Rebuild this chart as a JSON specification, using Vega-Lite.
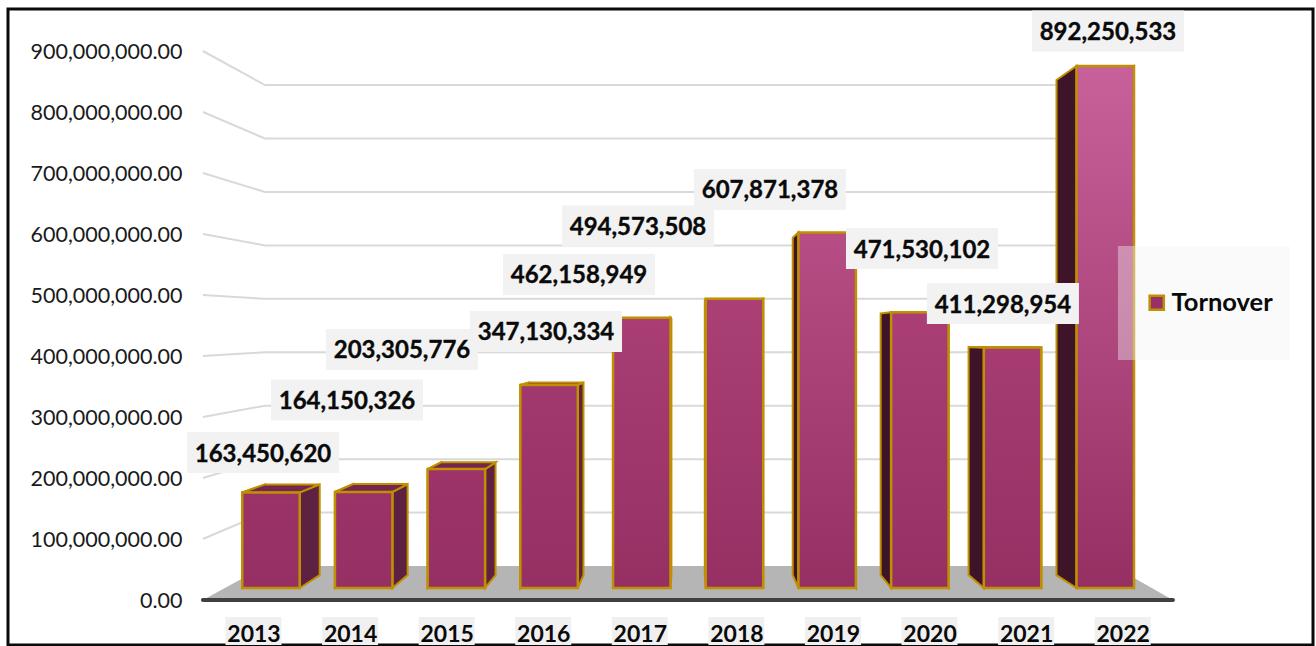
{
  "$schema": "https://vega.github.io/schema/vega-lite/v6.json",
  "width": 1305,
  "height": 636,
  "autosize": {"type": "none"},
  "padding": {"left": 8, "top": 9, "right": 3, "bottom": 1},
  "background": "white",
  "view": {"stroke": "#0a0a0a", "strokeWidth": 3, "fill": "white"},
  "config": {"text": {"font": "Lato"}},
  "datasets": {
    "turnover": [
      {"year": 2013, "value": 163450620},
      {"year": 2014, "value": 164150326},
      {"year": 2015, "value": 203305776},
      {"year": 2016, "value": 347130334},
      {"year": 2017, "value": 462158949},
      {"year": 2018, "value": 494573508},
      {"year": 2019, "value": 607871378},
      {"year": 2020, "value": 471530102},
      {"year": 2021, "value": 411298954},
      {"year": 2022, "value": 892250533}
    ],
    "ticks": [
      {"tick": 100000000}, {"tick": 200000000}, {"tick": 300000000},
      {"tick": 400000000}, {"tick": 500000000}, {"tick": 600000000},
      {"tick": 700000000}, {"tick": 800000000}, {"tick": 900000000}
    ],
    "floor": [{"corner": 0}, {"corner": 1}, {"corner": 2}, {"corner": 3}]
  },
  "layer": [
    {
      "description": "Floor, rear wall gridlines and the value axis",
      "encoding": {
        "x": {"field": "px", "type": "quantitative", "axis": null, "scale": {"domain": [2010.163, 2024.241], "nice": false, "zero": false}},
        "y": {
          "field": "py", "type": "quantitative",
          "scale": {"domain": [-73770000, 968850000], "nice": false, "zero": false},
          "axis": {
            "title": null, "orient": "left", "offset": -174, "domain": false, "ticks": false, "grid": false,
            "labelPadding": 0, "labelOffset": 1.5, "values": [0, 100000000, 200000000, 300000000, 400000000, 500000000, 600000000, 700000000, 800000000, 900000000],
            "format": ",.2f", "labelFont": "Lato", "labelFontSize": 21.5, "labelColor": "#1a1a1a", "labelOverlap": false, "labelBound": false, "labelFlush": false
          }
        }
      },
      "layer": [
        {
          "data": {"name": "floor"},
          "transform": [
            {"calculate": "[2012.266, 2012.935, 2022.083, 2022.73][datum.corner]", "as": "px"},
            {"calculate": "[0, 55700000, 55700000, 0][datum.corner]", "as": "py"},
            {"calculate": "0", "as": "py2"}
          ],
          "mark": {"type": "area", "fill": "#b5b5b5", "stroke": null},
          "encoding": {"y2": {"field": "py2"}}
        },
        {
          "data": {"name": "ticks"},
          "transform": [
            {"calculate": "[0, 1, 2]", "as": "bend"},
            {"flatten": ["bend"]},
            {"calculate": "[2012.266, 2012.935, 2022.083][datum.bend]", "as": "px"},
            {"calculate": "datum.bend == 0 ? datum.tick : 55700000 + 0.876 * datum.tick", "as": "py"}
          ],
          "mark": {"type": "line", "stroke": "#d9d9d9", "strokeWidth": 2},
          "encoding": {"detail": {"field": "tick"}}
        },
        {
          "data": {"values": [{"px": 2012.266, "px2": 2022.73, "py": 0}]},
          "mark": {"type": "rule", "stroke": "#404040", "strokeWidth": 4, "strokeCap": "round"},
          "encoding": {"x2": {"field": "px2"}}
        }
      ]
    },
    {
      "description": "Category axis with its shaded label plates",
      "data": {"name": "turnover"},
      "transform": [{"calculate": "-49600000", "as": "plateTop"}, {"calculate": "-97440000", "as": "plateBottom"}],
      "mark": {"type": "rule", "stroke": "#f0f0f0", "strokeWidth": 56},
      "encoding": {
        "x": {
          "field": "year", "type": "ordinal",
          "scale": {"type": "point", "domain": [2013, 2014, 2015, 2016, 2017, 2018, 2019, 2020, 2021, 2022], "range": [245.5, 1114.7], "padding": 0},
          "axis": {
            "title": null, "orient": "bottom", "offset": -4, "domain": false, "ticks": false, "grid": false, "labelAngle": 0, "zindex": 1,
            "labelPadding": 0, "labelBaseline": "alphabetic", "labelFont": "Lato", "labelFontWeight": "bold", "labelFontSize": 23,
            "labelColor": "#0a0a0a", "labelOverlap": false, "labelBound": false, "labelFlush": false
          }
        },
        "y": {"field": "plateTop", "type": "quantitative", "axis": null, "scale": {"domain": [-97440000, 989740000], "nice": false, "zero": false}},
        "y2": {"field": "plateBottom"}
      }
    },
    {
      "description": "Columns in one-point perspective, value labels and the legend plate",
      "data": {"name": "turnover"},
      "transform": [
        {"calculate": "datum.year - 0.31", "as": "x0"},
        {"calculate": "datum.year + 0.31", "as": "x1"},
        {"calculate": "2017.498 + 0.9485 * (datum.x0 - 2017.498)", "as": "bx0"},
        {"calculate": "2017.498 + 0.9485 * (datum.x1 - 2017.498)", "as": "bx1"},
        {"calculate": "427350000 + 0.9485 * (datum.value - 427350000)", "as": "bTop"},
        {"calculate": "427350000 + 0.9485 * (0 - 427350000)", "as": "bBase"}
      ],
      "encoding": {
        "x": {"field": "px", "type": "quantitative", "axis": null, "scale": {"domain": [2010.163, 2024.241], "nice": false, "zero": false}},
        "y": {"field": "py", "type": "quantitative", "axis": null, "scale": {"domain": [-97440000, 989740000], "nice": false, "zero": false}}
      },
      "layer": [
        {
          "transform": [
            {"calculate": "[0, 1]", "as": "c"},
            {"flatten": ["c"]},
            {"calculate": "datum.c == 0 ? datum.x1 : datum.bx1", "as": "px"},
            {"calculate": "datum.c == 0 ? datum.value : datum.bTop", "as": "py"},
            {"calculate": "datum.c == 0 ? 0 : datum.bBase", "as": "py2"}
          ],
          "mark": {"type": "area", "fill": "#5f2142", "stroke": "#bf9000", "strokeWidth": 2},
          "encoding": {"y2": {"field": "py2"}, "detail": {"field": "year"}}
        },
        {
          "transform": [
            {"calculate": "[0, 1]", "as": "c"},
            {"flatten": ["c"]},
            {"calculate": "datum.c == 0 ? datum.x0 : datum.bx0", "as": "px"},
            {"calculate": "datum.c == 0 ? datum.value : datum.bTop", "as": "py"},
            {"calculate": "datum.c == 0 ? 0 : datum.bBase", "as": "py2"}
          ],
          "mark": {"type": "area", "fill": "#3e1428", "stroke": "#bf9000", "strokeWidth": 2},
          "encoding": {"y2": {"field": "py2"}, "detail": {"field": "year"}}
        },
        {
          "transform": [
            {"filter": "datum.value < 427350000"},
            {"calculate": "[0, 1, 2, 3]", "as": "c"},
            {"flatten": ["c"]},
            {"calculate": "[min(datum.x0, datum.bx0), max(datum.x0, datum.bx0), min(datum.x1, datum.bx1), max(datum.x1, datum.bx1)][datum.c]", "as": "px"},
            {"calculate": "datum.c == 0 ? (datum.bx0 < datum.x0 ? datum.bTop : datum.value) : datum.c == 3 ? (datum.bx1 > datum.x1 ? datum.bTop : datum.value) : max(datum.value, datum.bTop)", "as": "py"},
            {"calculate": "datum.c == 0 ? (datum.bx0 < datum.x0 ? datum.bTop : datum.value) : datum.c == 3 ? (datum.bx1 > datum.x1 ? datum.bTop : datum.value) : min(datum.value, datum.bTop)", "as": "py2"}
          ],
          "mark": {"type": "area", "fill": "#74264f", "stroke": "#bf9000", "strokeWidth": 2},
          "encoding": {"y2": {"field": "py2"}, "detail": {"field": "year"}}
        },
        {
          "transform": [
            {"calculate": "datum.x0", "as": "px"},
            {"calculate": "datum.value", "as": "py"}
          ],
          "mark": {"type": "rect", "strokeWidth": 2.5},
          "encoding": {
            "x2": {"field": "x1"},
            "y2": {"datum": 0},
            "fill": {
              "field": "year", "type": "nominal", "legend": null,
              "scale": {
                "domain": [2013, 2014, 2015, 2016, 2017, 2018, 2019, 2020, 2021, 2022],
                "range": [
                  {"expr": "{gradient:'linear',x1:0,y1:1,x2:0,y2:0,stops:[{offset:0,color:'#963063'},{offset:1,color:'#9b3268'}]}"},
                  {"expr": "{gradient:'linear',x1:0,y1:1,x2:0,y2:0,stops:[{offset:0,color:'#963063'},{offset:1,color:'#9b3268'}]}"},
                  {"expr": "{gradient:'linear',x1:0,y1:1,x2:0,y2:0,stops:[{offset:0,color:'#963063'},{offset:1,color:'#9d3369'}]}"},
                  {"expr": "{gradient:'linear',x1:0,y1:1,x2:0,y2:0,stops:[{offset:0,color:'#963063'},{offset:1,color:'#a1386e'}]}"},
                  {"expr": "{gradient:'linear',x1:0,y1:1,x2:0,y2:0,stops:[{offset:0,color:'#963063'},{offset:1,color:'#a83e74'}]}"},
                  {"expr": "{gradient:'linear',x1:0,y1:1,x2:0,y2:0,stops:[{offset:0,color:'#963063'},{offset:1,color:'#aa4076'}]}"},
                  {"expr": "{gradient:'linear',x1:0,y1:1,x2:0,y2:0,stops:[{offset:0,color:'#963063'},{offset:1,color:'#b64d84'}]}"},
                  {"expr": "{gradient:'linear',x1:0,y1:1,x2:0,y2:0,stops:[{offset:0,color:'#963063'},{offset:1,color:'#a93f75'}]}"},
                  {"expr": "{gradient:'linear',x1:0,y1:1,x2:0,y2:0,stops:[{offset:0,color:'#963063'},{offset:1,color:'#a63c72'}]}"},
                  {"expr": "{gradient:'linear',x1:0,y1:1,x2:0,y2:0,stops:[{offset:0,color:'#963063'},{offset:1,color:'#c8609a'}]}"}
                ]
              }
            },
            "stroke": {
              "datum": "Tornover",
              "scale": {"domain": ["Tornover"], "range": ["#bf9000"]},
              "legend": {
                "title": null, "orient": "none", "legendX": 1136, "legendY": 281, "symbolType": "square", "symbolSize": 200,
                "symbolStrokeWidth": 2.5, "symbolFillColor": "#9a3068", "symbolOpacity": 1, "labelFont": "Lato", "labelFontWeight": "bold",
                "labelFontSize": 25.5, "labelColor": "#0a0a0a", "labelOffset": 2, "padding": 0
              }
            }
          }
        },
        {
          "transform": [
            {"calculate": "{'2013': 2012.914, '2014': 2013.82, '2015': 2014.413, '2016': 2015.967, '2017': 2016.323, '2018': 2016.959, '2019': 2018.383, '2020': 2020.023, '2021': 2020.896, '2022': 2022.029}[datum.year]", "as": "labelYearAt"},
            {"calculate": "{'2013': 231600000, '2014': 321400000, '2015': 407700000, '2016': 438500000, '2017': 535900000, '2018': 618800000, '2019': 681200000, '2020': 580300000, '2021': 486300000, '2022': 952100000}[datum.year]", "as": "labelValueAt"},
            {"calculate": "datum.labelYearAt - 0.82", "as": "px"},
            {"calculate": "datum.labelYearAt + 0.82", "as": "px2"},
            {"calculate": "datum.labelValueAt + 35040000", "as": "py"},
            {"calculate": "datum.labelValueAt - 35040000", "as": "py2"}
          ],
          "mark": {"type": "rect", "fill": "#f2f2f2"},
          "encoding": {"x2": {"field": "px2"}, "y2": {"field": "py2"}}
        },
        {
          "transform": [
            {"calculate": "{'2013': 2012.914, '2014': 2013.82, '2015': 2014.413, '2016': 2015.967, '2017': 2016.323, '2018': 2016.959, '2019': 2018.383, '2020': 2020.023, '2021': 2020.896, '2022': 2022.029}[datum.year]", "as": "px"},
            {"calculate": "{'2013': 231600000, '2014': 321400000, '2015': 407700000, '2016': 438500000, '2017': 535900000, '2018': 618800000, '2019': 681200000, '2020': 580300000, '2021': 486300000, '2022': 952100000}[datum.year]", "as": "py"}
          ],
          "mark": {"type": "text", "font": "Lato", "fontWeight": "bold", "fontSize": 24, "color": "#0a0a0a", "stroke": "#0a0a0a", "strokeWidth": 0.35, "align": "center", "baseline": "middle", "dy": 2},
          "encoding": {"text": {"field": "value", "type": "quantitative", "format": ",.0f"}}
        },
        {
          "data": {"values": [{"px": 2022.137, "px2": 2023.992, "py": 584600000, "py2": 389700000}]},
          "transform": [],
          "mark": {"type": "rect", "fill": "#f2f2f2", "fillOpacity": 0.4},
          "encoding": {"x2": {"field": "px2"}, "y2": {"field": "py2"}}
        }
      ]
    }
  ],
  "resolve": {"scale": {"x": "independent", "y": "independent", "fill": "independent", "stroke": "independent"}}
}
